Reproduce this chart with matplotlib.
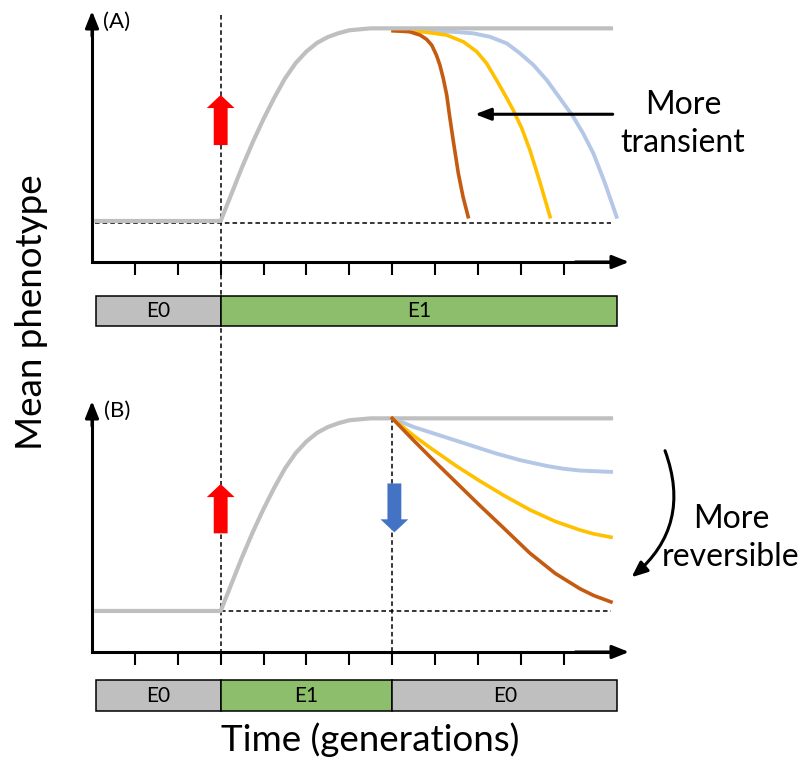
import matplotlib.pyplot as plt
from matplotlib.patches import FancyArrowPatch
from matplotlib.transforms import blended_transform_factory

plt.rcParams['font.family'] = ['Lato', 'DejaVu Sans']

# Time in generations, mean phenotype scaled 0 (E0 level) .. 1 (E1 level).
# All values.
tick_t = list(range(1, 12))

# response to the switch E0 -> E1 (same in both panels)
gray_t = [0.1, 3.0, 3.25, 3.5, 3.75, 4.0, 4.25, 4.5, 4.75, 5.0, 5.25, 5.5, 5.75, 6.0, 6.5, 7.0, 12.1]
gray_v = [0.0, 0.0, 0.14, 0.28, 0.41, 0.53, 0.64, 0.74, 0.82, 0.88, 0.925, 0.955, 0.975, 0.99, 1.0, 1.0, 1.0]

# (A) response fades although the environment stays E1
a_brown_t = [7.02, 7.41, 7.65, 7.80, 7.92, 8.03, 8.11, 8.19, 8.27, 8.34, 8.42, 8.54, 8.65, 8.77]
a_brown_v = [0.988, 0.982, 0.965, 0.943, 0.913, 0.861, 0.81, 0.74, 0.654, 0.541, 0.42, 0.248, 0.126, 0.022]
a_yellow_t = [7.02, 7.72, 8.27, 8.66, 8.97, 9.2, 9.43, 9.63, 9.82, 10.02, 10.21, 10.44, 10.68]
a_yellow_v = [0.988, 0.982, 0.965, 0.93, 0.879, 0.818, 0.732, 0.654, 0.576, 0.481, 0.368, 0.204, 0.022]
a_blue_t = [7.02, 7.9, 8.42, 8.89, 9.28, 9.67, 9.98, 10.29, 10.6, 10.91, 11.22, 11.45, 11.69, 11.96, 12.23]
a_blue_v = [0.988, 0.986, 0.982, 0.974, 0.956, 0.922, 0.87, 0.81, 0.732, 0.637, 0.541, 0.455, 0.351, 0.196, 0.022]

# (B) back to E0 at generation 7
b_blue_t = [7.0, 7.5, 8.27, 8.8, 9.43, 10.0, 10.6, 11.0, 11.38, 12.1]
b_blue_v = [1.0, 0.955, 0.90, 0.862, 0.817, 0.782, 0.753, 0.738, 0.729, 0.722]
b_yellow_t = [7.0, 7.5, 7.88, 8.5, 9.04, 9.6, 10.21, 10.8, 11.38, 11.7, 12.1]
b_yellow_v = [1.0, 0.91, 0.848, 0.752, 0.675, 0.60, 0.525, 0.465, 0.42, 0.40, 0.383]
b_brown_t = [7.0, 7.5, 7.88, 8.5, 9.04, 9.6, 10.21, 10.8, 11.38, 11.7, 12.1]
b_brown_v = [1.0, 0.885, 0.80, 0.665, 0.548, 0.43, 0.30, 0.195, 0.115, 0.08, 0.047]

# environment periods (label, start, end)
env_A = [("E0", 0.1, 3.0), ("E1", 3.0, 12.25)]
env_B = [("E0", 0.1, 3.0), ("E1", 3.0, 7.0), ("E0", 7.0, 12.25)]
switch_up = 3.0
switch_down = 7.0

GRAY = "#BFBFBF"
BROWN = "#C55A11"
YELLOW = "#FFC000"
LBLUE = "#B4C7E7"
ENV_COL = {"E0": "#BFBFBF", "E1": "#8DBE6C"}
DASH = (0, (3, 2))

W, H = 803, 765
fig = plt.figure(figsize=(W / 100, H / 100), dpi=100)
axA = fig.add_axes([92 / W, 1 - 262 / H, 537 / W, 251 / H])
axB = fig.add_axes([92 / W, 1 - 652 / H, 537 / W, 251 / H])


def setup(ax):
    ax.set_xlim(0, 12.52)
    ax.set_ylim(-0.213, 1.09)
    ax.patch.set_visible(False)
    for s in ax.spines.values():
        s.set_visible(False)
    ax.set_xticks(tick_t)
    ax.set_xticklabels([])
    ax.set_yticks([])
    ax.tick_params(axis="x", direction="out", length=9.4, width=1.5)
    # L-shaped axes with arrow heads
    ax.plot([0, 0, 0.97], [0.97, 0, 0], color="black", lw=2.2,
            transform=ax.transAxes, clip_on=False, solid_joinstyle="miter")
    for xy, xyt in [((0, 1), (0, 0.9)), ((1, 0), (0.9, 0))]:
        ax.annotate("", xy=xy, xytext=xyt, xycoords="axes fraction",
                    arrowprops=dict(arrowstyle="-|>,head_length=0.5,head_width=0.2",
                                    mutation_scale=20, lw=2.2, color="black",
                                    shrinkA=0, shrinkB=0))


def env_bar(ax, segs, yc, h):
    for name, t0, t1 in segs:
        ax.barh(yc, t1 - t0, left=t0, height=h, color=ENV_COL[name],
                edgecolor="black", lw=1.1, clip_on=False, zorder=3)
        ax.text((t0 + t1) / 2, yc, name, ha="center", va="center",
                fontsize=15, zorder=4, clip_on=False)


def block_arrow(ax, t, v0, v1, color):
    ax.add_patch(FancyArrowPatch((t, v0), (t, v1),
                                 arrowstyle="simple,head_length=9.4,head_width=20,tail_width=10",
                                 mutation_scale=1, color=color, lw=0,
                                 shrinkA=0, shrinkB=0, zorder=5))


setup(axA)
setup(axB)

# ---- panel A ----
axA.plot([0.07, 12.1], [-0.01, -0.01], color="black", lw=1.1, ls=DASH, zorder=1)
axA.plot(a_blue_t, a_blue_v, color=LBLUE, lw=2.8, zorder=2)
axA.plot(a_yellow_t, a_yellow_v, color=YELLOW, lw=2.6, zorder=2)
axA.plot(a_brown_t, a_brown_v, color=BROWN, lw=2.6, zorder=2)
axA.plot(gray_t, gray_v, color=GRAY, lw=3.0, zorder=2.5)
block_arrow(axA, switch_up, 0.394, 0.654, "#FF0000")
axA.annotate("", xy=(8.93, 0.554), xytext=(12.14, 0.554),
             arrowprops=dict(arrowstyle="-|>,head_length=0.47,head_width=0.18",
                             mutation_scale=20, lw=2.2, color="black",
                             shrinkA=0, shrinkB=0))
env_bar(axA, env_A, -0.467, 0.156)

# dashed line at the first switch, through both panels
tr = blended_transform_factory(axA.transData, fig.transFigure)
axA.plot([switch_up, switch_up], [1 - 15 / H, 1 - 665 / H], color="black",
         lw=1.1, ls=DASH, transform=tr, clip_on=False, zorder=0.5)

# ---- panel B ----
axB.plot([switch_up, 12.1], [0, 0], color="black", lw=1.1, ls=DASH, zorder=1)
axB.plot([switch_down, switch_down], [1.0, -0.213], color="black", lw=1.1,
         ls=DASH, zorder=1)
axB.plot(gray_t, gray_v, color=GRAY, lw=3.0, zorder=2)
axB.plot(b_blue_t, b_blue_v, color=LBLUE, lw=2.8, zorder=2.5)
axB.plot(b_yellow_t, b_yellow_v, color=YELLOW, lw=2.6, zorder=2.5)
axB.plot(b_brown_t, b_brown_v, color=BROWN, lw=2.6, zorder=2.5)
block_arrow(axB, switch_up, 0.403, 0.659, "#FF0000")
block_arrow(axB, 7.05, 0.662, 0.408, "#4472C4")
axB.annotate("", xy=(12.58, 0.175), xytext=(13.36, 0.832), annotation_clip=False,
             arrowprops=dict(arrowstyle="-|>,head_length=0.47,head_width=0.2",
                             mutation_scale=20, lw=2.2, color="black",
                             shrinkA=0, shrinkB=0, connectionstyle="arc3,rad=-0.35"))
env_bar(axB, env_B, -0.44, 0.16)

# ---- texts ----
fig.text(117 / W, 1 - 22 / H, "(A)", ha="center", va="center", fontsize=16)
fig.text(117 / W, 1 - 411 / H, "(B)", ha="center", va="center", fontsize=16)
fig.text(683 / W, 1 - 124 / H, "More\ntransient", ha="center", va="center",
         fontsize=23, linespacing=1.3)
fig.text(731 / W, 1 - 538 / H, "More\nreversible", ha="center", va="center",
         fontsize=23, linespacing=1.3)
fig.text(370 / W, 1 - 740 / H, "Time (generations)", ha="center", va="center",
         fontsize=26.5)
fig.text(32 / W, 1 - 312 / H, "Mean phenotype", ha="center", va="center",
         rotation=90, fontsize=26.5)

fig.savefig("out.png", dpi=100)
